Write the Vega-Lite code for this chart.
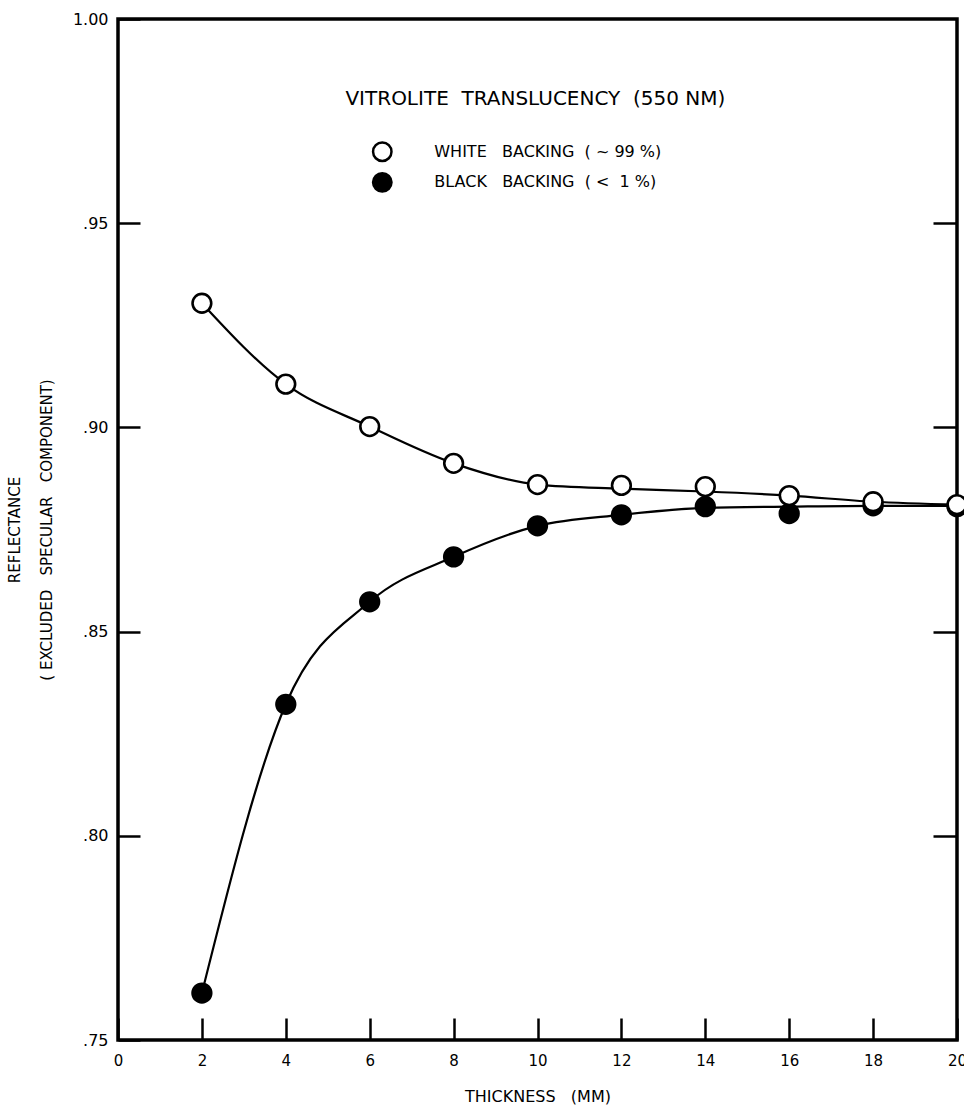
{
  "$schema": "https://vega.github.io/schema/vega-lite/v6.json",
  "width": 839,
  "height": 1021,
  "autosize": {"type": "none"},
  "padding": {"left": 118, "top": 19, "right": 7, "bottom": 70},
  "background": "white",
  "config": {
    "view": {"stroke": "black", "strokeWidth": 3.5},
    "font": "DejaVu Sans",
    "axis": {
      "domain": false,
      "grid": false,
      "tickColor": "black",
      "tickWidth": 2.5,
      "labelColor": "black",
      "titleColor": "black",
      "labelFont": "DejaVu Sans",
      "titleFont": "DejaVu Sans",
      "labelFontSize": 15,
      "titleFontSize": 15,
      "titleFontWeight": "normal"
    }
  },
  "datasets": {
    "points": [
      {"thickness": 2, "series": "black", "value": 0.7615, "fit": 0.7615},
      {"thickness": 4, "series": "black", "value": 0.8322, "fit": 0.8322},
      {"thickness": 6, "series": "black", "value": 0.8573, "fit": 0.8573},
      {"thickness": 8, "series": "black", "value": 0.8683, "fit": 0.8683},
      {"thickness": 10, "series": "black", "value": 0.8759, "fit": 0.8759},
      {"thickness": 12, "series": "black", "value": 0.8786, "fit": 0.8786},
      {"thickness": 14, "series": "black", "value": 0.8806, "fit": 0.8803},
      {"thickness": 16, "series": "black", "value": 0.8789, "fit": 0.8806},
      {"thickness": 18, "series": "black", "value": 0.8808, "fit": 0.8808},
      {"thickness": 20, "series": "black", "value": 0.8806, "fit": 0.8808},
      {"thickness": 2, "series": "white", "value": 0.9304, "fit": 0.9304},
      {"thickness": 4, "series": "white", "value": 0.9106, "fit": 0.9106},
      {"thickness": 6, "series": "white", "value": 0.9002, "fit": 0.9002},
      {"thickness": 8, "series": "white", "value": 0.8912, "fit": 0.8912},
      {"thickness": 10, "series": "white", "value": 0.886, "fit": 0.886},
      {"thickness": 12, "series": "white", "value": 0.8858, "fit": 0.885},
      {"thickness": 14, "series": "white", "value": 0.8855, "fit": 0.8843},
      {"thickness": 16, "series": "white", "value": 0.8833, "fit": 0.8833},
      {"thickness": 18, "series": "white", "value": 0.8818, "fit": 0.8818},
      {"thickness": 20, "series": "white", "value": 0.8811, "fit": 0.8811}
    ],
    "heading": [
      {"x": 9.95, "y": 0.9805, "text": "VITROLITE\u00a0 TRANSLUCENCY\u00a0 (550\u00a0NM)"}
    ],
    "keys": [
      {"x": 6.3, "y": 0.9675, "series": "white", "text": "WHITE\u00a0\u00a0 BACKING\u00a0 (\u00a0~\u00a099\u00a0%)"},
      {"x": 6.3, "y": 0.96, "series": "black", "text": "BLACK\u00a0\u00a0 BACKING\u00a0 (\u00a0<\u00a0 1\u00a0%)"}
    ]
  },
  "resolve": {"axis": {"y": "independent", "x": "independent"}},
  "layer": [
    {
      "data": {"name": "points"},
      "mark": {"type": "line", "interpolate": "monotone", "color": "black", "strokeWidth": 2.2},
      "encoding": {
        "x": {
          "field": "thickness", "type": "quantitative",
          "scale": {"domain": [0, 20], "nice": false, "zero": false},
          "axis": {
            "values": [0, 2, 4, 6, 8, 10, 12, 14, 16, 18, 20],
            "tickSize": -22,
            "labelPadding": 35,
            "labelFontSize": 15,
            "labelFlush": false,
            "labelOverlap": false,
            "title": "THICKNESS\u00a0\u00a0 (MM)",
            "titlePadding": 20,
            "titleFontSize": 16
          }
        },
        "y": {
          "field": "fit", "type": "quantitative",
          "scale": {"domain": [0.75, 1.0], "nice": false, "zero": false},
          "axis": {
            "values": [0.75, 0.8, 0.85, 0.9, 0.95, 1.0],
            "labelExpr": "datum.value == 1 ? '1.00' : replace(format(datum.value, '.2f'), '0.', '.')",
            "tickSize": -22,
            "labelPadding": 32,
            "labelFontSize": 16,
            "labelFlush": false,
            "labelOverlap": false,
            "title": ["REFLECTANCE", "(\u00a0EXCLUDED\u00a0\u00a0 SPECULAR\u00a0\u00a0 COMPONENT)"],
            "titleFontSize": 15,
            "titleLineHeight": 32,
            "titlePadding": 18
          }
        },
        "detail": {"field": "series"}
      }
    },
    {
      "data": {"name": "points"},
      "mark": {"type": "point", "shape": "circle", "size": 350, "filled": true, "stroke": "black", "strokeWidth": 2.6, "opacity": 1},
      "encoding": {
        "x": {"field": "thickness", "type": "quantitative", "axis": null},
        "y": {
          "field": "value", "type": "quantitative",
          "axis": {
            "orient": "right",
            "values": [0.8, 0.85, 0.9, 0.95],
            "tickSize": -24,
            "labels": false,
            "title": null
          }
        },
        "fill": {"field": "series", "type": "nominal", "scale": {"domain": ["white", "black"], "range": ["white", "black"]}, "legend": null}
      }
    },
    {
      "data": {"name": "heading"},
      "mark": {"type": "text", "align": "center", "baseline": "middle", "fontSize": 20, "color": "black"},
      "encoding": {
        "x": {"field": "x", "type": "quantitative", "axis": null},
        "y": {"field": "y", "type": "quantitative", "axis": null},
        "text": {"field": "text"}
      }
    },
    {
      "data": {"name": "keys"},
      "mark": {"type": "point", "shape": "circle", "size": 340, "filled": true, "stroke": "black", "strokeWidth": 2.5, "opacity": 1},
      "encoding": {
        "x": {"field": "x", "type": "quantitative", "axis": null},
        "y": {"field": "y", "type": "quantitative", "axis": null},
        "fill": {"field": "series", "type": "nominal", "scale": {"domain": ["white", "black"], "range": ["white", "black"]}, "legend": null}
      }
    },
    {
      "data": {"name": "keys"},
      "mark": {"type": "text", "align": "left", "baseline": "middle", "dx": 52, "fontSize": 16, "color": "black"},
      "encoding": {
        "x": {"field": "x", "type": "quantitative", "axis": null},
        "y": {"field": "y", "type": "quantitative", "axis": null},
        "text": {"field": "text"}
      }
    }
  ]
}
